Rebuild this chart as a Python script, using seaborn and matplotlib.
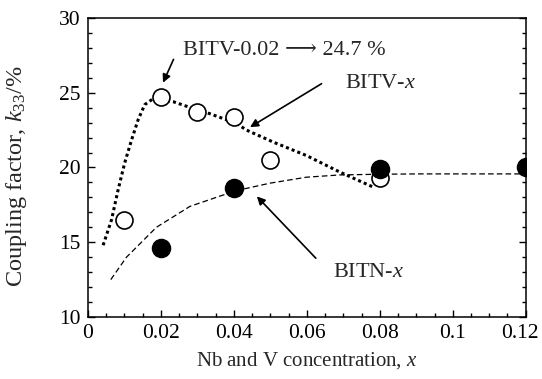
import matplotlib
matplotlib.use("Agg")
import matplotlib.pyplot as plt
import matplotlib.transforms as mtransforms
import seaborn as sns
import pandas as pd
from matplotlib.ticker import MultipleLocator

# ---- data ----
bitv_x = [0.01, 0.02, 0.03, 0.04, 0.05, 0.08]
bitv_k = [16.5, 24.7, 23.7, 23.4, 20.5, 19.3]

bitn_x = [0.02, 0.04, 0.08, 0.12]
bitn_k = [14.6, 18.6, 19.9, 20.0]

# fitted guide curves
bitv_fit_x = [0.0042, 0.0065, 0.0083, 0.0101, 0.012, 0.0138, 0.0156, 0.0179, 0.0234, 0.027, 0.0334, 0.0407, 0.0435, 0.0508, 0.0599, 0.069, 0.0781]
bitv_fit_k = [14.8, 16.5, 18.5, 20.3, 21.85, 23.2, 24.2, 24.6, 24.4, 24.1, 23.6, 22.95, 22.5, 21.7, 20.8, 19.7, 18.7]

bitn_fit_x = [0.0063, 0.0106, 0.0188, 0.028, 0.037, 0.0416, 0.0499, 0.0599, 0.069, 0.08, 0.091, 0.12]
bitn_fit_k = [12.5, 14.0, 16.0, 17.4, 18.15, 18.5, 18.95, 19.35, 19.5, 19.55, 19.57, 19.57]

x_ticks = [0, 0.02, 0.04, 0.06, 0.08, 0.1, 0.12]
x_tick_labels = ["0", "0.02", "0.04", "0.06", "0.08", "0.1", "0.12"]
y_ticks = [10, 15, 20, 25, 30]

sns.set_theme(style="ticks")
plt.rcParams["font.family"] = ["Liberation Serif", "DejaVu Serif"]
plt.rcParams["mathtext.fontset"] = "custom"
plt.rcParams["mathtext.rm"] = "Liberation Serif"
plt.rcParams["mathtext.it"] = "Liberation Serif:italic"

TICK_FS = 15.5
XL_FS = 15
YL_FS = 17.5
ANN_FS = 16

fig = plt.figure(figsize=(5.42, 3.79), dpi=100)
ax = fig.add_axes([0.162, 0.1636, 0.808, 0.789])

dv = pd.DataFrame({"x": bitv_fit_x, "k": bitv_fit_k})
dn = pd.DataFrame({"x": bitn_fit_x, "k": bitn_fit_k})
sns.lineplot(data=dv, x="x", y="k", ax=ax, color="black", linestyle=(0, (1, 1)), linewidth=2.2, sort=False)
sns.lineplot(data=dn, x="x", y="k", ax=ax, color="black", linestyle=(0, (4.5, 2.5)), linewidth=0.9, sort=False)

pv = pd.DataFrame({"x": bitv_x, "k": bitv_k})
pn = pd.DataFrame({"x": bitn_x, "k": bitn_k})
sns.scatterplot(data=pv, x="x", y="k", ax=ax, s=150, facecolor="white", edgecolor="black", linewidth=1.2, zorder=5)
sns.scatterplot(data=pn, x="x", y="k", ax=ax, s=170, color="black", edgecolor="black", linewidth=1.0, zorder=6)

ax.set_xlim(0, 0.12)
ax.set_ylim(10, 30)
ax.set_xticks(x_ticks)
ax.set_xticklabels(x_tick_labels)
ax.set_yticks(y_ticks)
ax.xaxis.set_minor_locator(MultipleLocator(0.005))
ax.yaxis.set_minor_locator(MultipleLocator(1))
ax.tick_params(which="both", direction="in", right=True, top=False, labelsize=TICK_FS, colors="black")
ax.tick_params(which="major", length=5, width=1, pad=5)
ax.tick_params(which="minor", length=3, width=1)
for s in ax.spines.values():
    s.set_linewidth(1.1)
    s.set_color("black")

# nudge the last x tick label inward so it stays inside the figure
last = ax.get_xticklabels()[-1]
last.set_transform(last.get_transform() + mtransforms.ScaledTranslation(-4 / 72, 0, fig.dpi_scale_trans))

ax.set_xlabel("Nb and V concentration, $x$", fontsize=XL_FS, labelpad=5)
ax.set_ylabel("Coupling factor, $k_{33}$/%", fontsize=YL_FS)
ax.yaxis.set_label_coords(-0.135, 0.47)

ax.text(0.026, 27.53, "BITV-0.02 \u27f6 24.7 %", fontsize=ANN_FS, va="baseline", ha="left")
ax.annotate("", xy=(0.0203, 25.5), xytext=(0.0238, 27.4),
            arrowprops=dict(arrowstyle="-|>", color="black", lw=1.2, mutation_scale=12))
ax.text(0.0705, 25.32, "BITV-$x$", fontsize=ANN_FS, va="baseline", ha="left")
ax.annotate("", xy=(0.0438, 22.6), xytext=(0.0647, 25.7),
            arrowprops=dict(arrowstyle="-|>", color="black", lw=1.2, mutation_scale=12))
ax.text(0.0672, 12.68, "BITN-$x$", fontsize=ANN_FS, va="baseline", ha="left")
ax.annotate("", xy=(0.0458, 18.2), xytext=(0.063, 13.8),
            arrowprops=dict(arrowstyle="-|>", color="black", lw=1.2, mutation_scale=12))

fig.savefig("out.png", dpi=100)
